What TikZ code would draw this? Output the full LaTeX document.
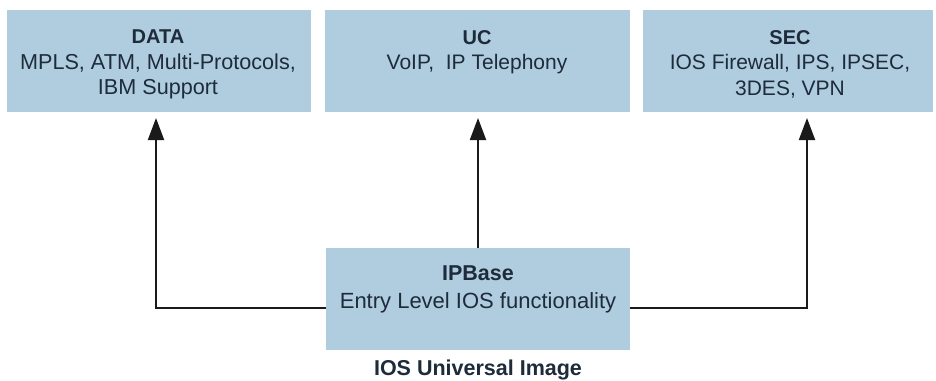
\documentclass[tikz,border=0pt]{standalone}
\usepackage{fontspec}
\setmainfont{Liberation Sans}
\usetikzlibrary{arrows.meta}
\definecolor{boxfill}{HTML}{AFCDDF}
\definecolor{txtcol}{HTML}{1E2B3A}
\definecolor{arrcol}{HTML}{1A1A1A}
\tikzset{
  boxnode/.style={rectangle, fill=boxfill, draw=none, inner sep=0pt},
  boxtext/.style={anchor=north, inner sep=0pt, align=center, text=txtcol,
    font=\fontsize{21}{25.5}\selectfont},
  conn/.style={draw=arrcol, line width=2pt,
    -{Triangle[length=22pt,width=16pt]}},
}
\begin{document}
\begin{tikzpicture}[x=1pt,y=-1pt]
\useasboundingbox[fill=white] (0,0) rectangle (936,380);
% boxes
\node[boxnode, minimum width=304pt, minimum height=102pt] (data) at (159,61) {};
\node[boxnode, minimum width=305pt, minimum height=102pt] (uc) at (477.5,61) {};
\node[boxnode, minimum width=290pt, minimum height=102pt] (sec) at (788,61) {};
\node[boxnode, minimum width=304pt, minimum height=102pt] (ipb) at (478,299) {};
% texts
\node[boxtext, font=\fontsize{21.6}{25.5}\selectfont] (datat) at (158,30) {{\fontsize{20}{24}\bfseries DATA}\\MPLS, ATM, Multi-Protocols,\\IBM Support};
\node[boxtext] (uct) at (477,30) {{\fontsize{20}{24}\bfseries UC}\\VoIP,\ \ IP Telephony};
\node[boxtext] (sect) at (790,30) {{\fontsize{20}{24}\bfseries SEC}\\IOS Firewall, IPS, IPSEC,\\3DES, VPN};
\node[boxtext, font=\fontsize{22}{28}\selectfont] (ipbt) at (478,266) {{\fontsize{21.5}{26}\bfseries IPBase}\\Entry Level IOS functionality};
\node[anchor=base, inner sep=0pt, text=txtcol, font=\fontsize{21.5}{26}\selectfont\bfseries] (ios) at (478,375) {IOS Universal Image};
% connectors
\coordinate (ltip) at (156,118);
\coordinate (rtip) at (807,118);
\coordinate (mtip) at (478,118);
\draw[conn] (ipb.west |- 0,308) -| (ltip);
\draw[conn] (ipb.north) -- (mtip);
\draw[conn] (ipb.east |- 0,308) -| (rtip);
\end{tikzpicture}
\end{document}
